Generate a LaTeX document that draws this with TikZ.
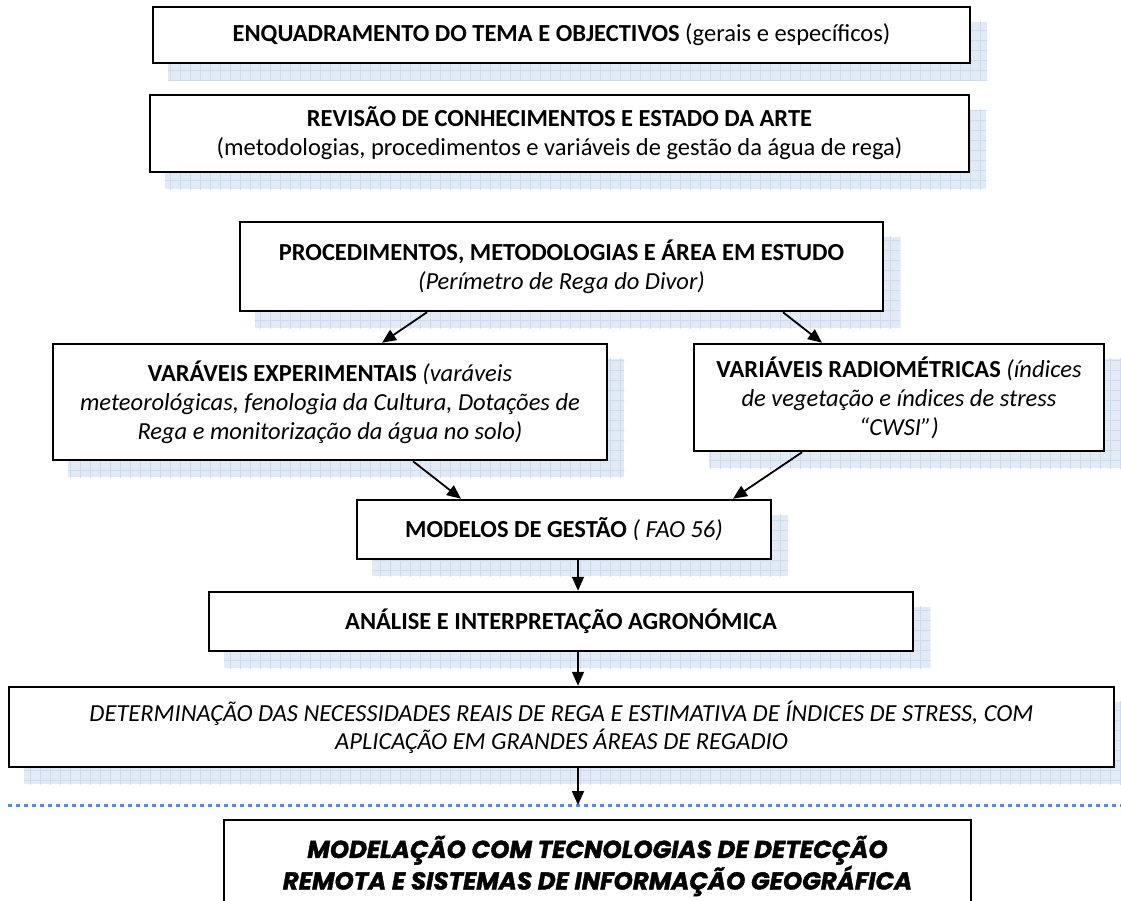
\documentclass[tikz,border=0pt]{standalone}
\usepackage{fontspec}
\setmainfont{Carlito}
\newfontfamily\heavyfont[BoldItalicFeatures={FakeBold=1.5}]{Poppins}
\usetikzlibrary{arrows.meta,backgrounds}
\definecolor{shadowfill}{RGB}{226,234,246}
\definecolor{shadowgrid}{RGB}{205,219,241}
\definecolor{dotblue}{RGB}{85,142,213}
\tikzset{
 box/.style={draw=black, line width=2.5pt, fill=white, inner sep=0pt, align=center, font=\fontsize{24.5}{29}\selectfont},
 arr/.style={line width=1.8pt, -{Triangle[length=14pt,width=12pt]}},
 dotline/.style={dotblue, line width=3pt, dash pattern=on 3.5pt off 4.5pt},
}
\newcommand\boxshadow[1]{%
 \begin{scope}[on background layer]
  \begin{scope}
   \clip ([shift={(16,16)}]#1.north west) rectangle ([shift={(16,16)}]#1.south east);
   \fill[shadowfill] ([shift={(16,16)}]#1.north west) rectangle ([shift={(16,16)}]#1.south east);
   \draw[shadowgrid, line width=0.8pt, step=10pt] ([shift={(6,6)}]#1.north west) grid ([shift={(26,26)}]#1.south east);
  \end{scope}
 \end{scope}}
\begin{document}
\begin{tikzpicture}[x=1pt,y=-1pt]
\useasboundingbox (0,0) rectangle (1121,900);
\node[box, minimum width=817pt, minimum height=56pt] (n1) at (561.5,35)
 {\textbf{ENQUADRAMENTO DO TEMA E OBJECTIVOS} (gerais e específicos)};
\node[box, minimum width=819pt, minimum height=77pt] (n2) at (559.5,133.5)
 {\textbf{REVISÃO DE CONHECIMENTOS E ESTADO DA ARTE}\\(metodologias, procedimentos e variáveis de gestão da água de rega)};
\node[box, minimum width=643pt, minimum height=89pt] (n3) at (561.5,266.5)
 {\textbf{PROCEDIMENTOS, METODOLOGIAS E ÁREA EM ESTUDO}\\\textit{(Perímetro de Rega do Divor)}};
\node[box, minimum width=554pt, minimum height=116pt] (n4) at (330,402)
 {\textbf{VARÁVEIS EXPERIMENTAIS} \textit{(varáveis}\\\textit{meteorológicas, fenologia da Cultura, Dotações de}\\\textit{Rega e monitorização da água no solo)}};
\node[box, minimum width=410pt, minimum height=107pt] (n5) at (899,397.5)
 {\textbf{VARIÁVEIS RADIOMÉTRICAS} \textit{(índices}\\\textit{de vegetação e índices de stress}\\\textit{“CWSI”)}};
\node[box, minimum width=414pt, minimum height=59pt] (n6) at (564,529.5)
 {\textbf{MODELOS DE GESTÃO} \textit{( FAO 56)}};
\node[box, minimum width=704pt, minimum height=59pt] (n7) at (561,621.5)
 {\textbf{ANÁLISE E INTERPRETAÇÃO AGRONÓMICA}};
\node[box, minimum width=1105pt, minimum height=80pt, font=\fontsize{24.5}{28}\selectfont] (n8) at (561.5,727)
 {\textit{DETERMINAÇÃO DAS NECESSIDADES REAIS DE REGA E ESTIMATIVA DE ÍNDICES DE STRESS, COM}\\\textit{APLICAÇÃO EM GRANDES ÁREAS DE REGADIO}};
\node[box, minimum width=747pt, minimum height=92pt, font=\fontsize{24.5}{28}\selectfont] (n9) at (597.5,866)
 {\heavyfont\bfseries\itshape MODELAÇÃO COM TECNOLOGIAS DE DETECÇÃO\\\heavyfont\bfseries\itshape REMOTA E SISTEMAS DE INFORMAÇÃO GEOGRÁFICA};
\foreach \n in {n1,n2,n3,n4,n5,n6,n7,n8}{\boxshadow{\n}}
\coordinate (d1) at (8,805);
\coordinate (d2) at (1121,805);
\draw[dotline] (d1) -- (d2);
\draw[arr] ([xshift=-134.5pt]n3.south) -- ([xshift=52pt]n4.north);
\draw[arr] ([xshift=221.5pt]n3.south) -- ([xshift=-77pt]n5.north);
\draw[arr] ([xshift=83pt]n4.south) -- ([xshift=-103pt]n6.north);
\draw[arr] ([xshift=-97pt]n5.south) -- ([xshift=169pt]n6.north);
\draw[arr] ([xshift=14pt]n6.south) -- ([xshift=14pt]n6.south |- n7.north);
\draw[arr] ([xshift=17pt]n7.south) -- ([xshift=17pt]n7.south |- n8.north);
\draw[arr] ([xshift=16.5pt]n8.south) -- ([xshift=16.5pt]n8.south |- d1);
\end{tikzpicture}
\end{document}
